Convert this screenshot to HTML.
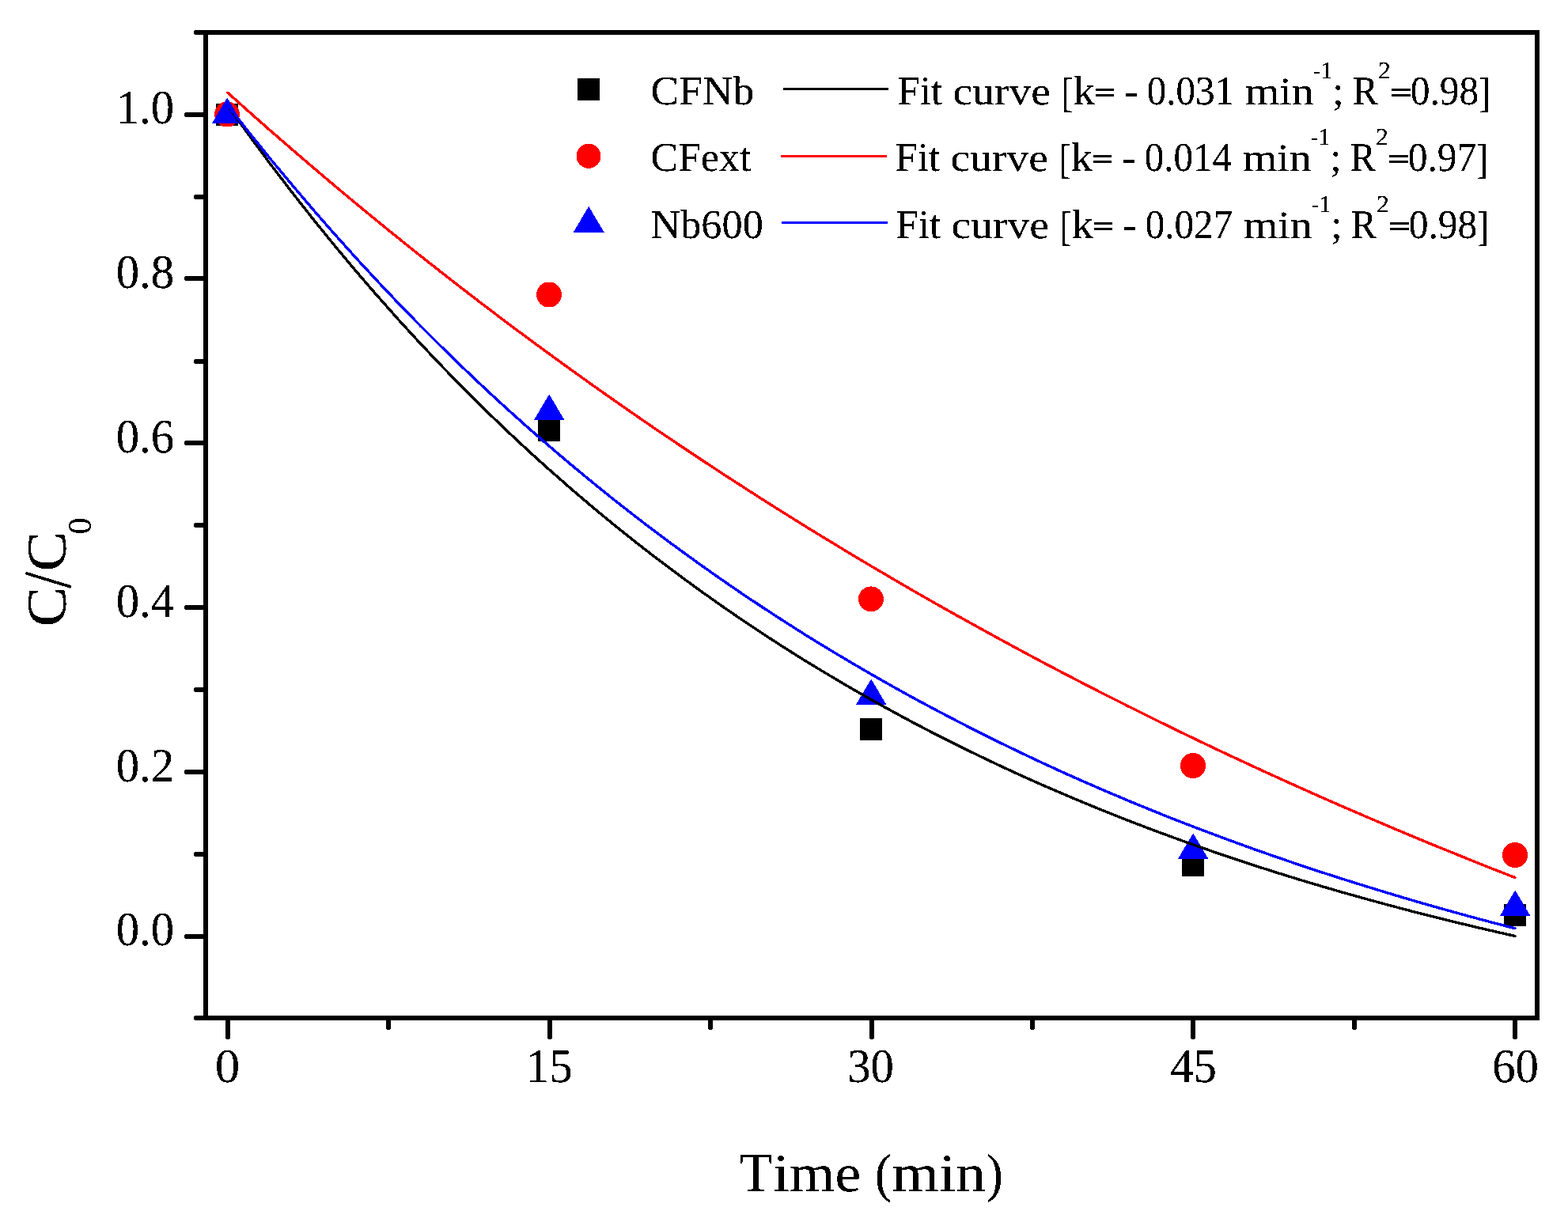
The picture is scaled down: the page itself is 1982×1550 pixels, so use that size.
<!DOCTYPE html>
<html lang="en"><head><meta charset="utf-8"><title>C/C0 versus time</title>
<style>html,body{margin:0;padding:0;background:#fff}svg{display:block}text{font-family:"Liberation Serif","DejaVu Serif",serif;fill:#000;white-space:pre;text-rendering:geometricPrecision}</style></head><body>
<svg width="1982" height="1550" viewBox="0 0 1982 1550">
<rect width="1982" height="1550" fill="#fff"/>
<defs><filter id="bw" filterUnits="userSpaceOnUse" x="0" y="0" width="1982" height="1550" color-interpolation-filters="sRGB"><feComponentTransfer><feFuncA type="discrete" tableValues="0 0 1 1 1"/></feComponentTransfer></filter></defs>
<g shape-rendering="crispEdges">
<g fill="#000"><rect x="273.0" y="130.5" width="28" height="28"/><rect x="680.0" y="530.0" width="28" height="28"/><rect x="1087.0" y="907.5" width="28" height="28"/><rect x="1494.0" y="1079.5" width="28" height="28"/><rect x="1901.0" y="1142.5" width="28" height="28"/></g>
<g fill="#f00"><circle cx="287.0" cy="144.5" r="16"/><circle cx="694.0" cy="372.5" r="16"/><circle cx="1101.0" cy="757.4" r="16"/><circle cx="1508.0" cy="968.0" r="16"/><circle cx="1915.0" cy="1081.0" r="16"/></g>
<g fill="#00f"><polygon points="287.2,123.5 306.7,156.3 267.7,156.3"/><polygon points="694.2,498.5 713.7,531.3 674.7,531.3"/><polygon points="1101.2,858.5 1120.7,891.3 1081.7,891.3"/><polygon points="1508.2,1053.5 1527.7,1086.3 1488.7,1086.3"/><polygon points="1915.2,1125.5 1934.7,1158.3 1895.7,1158.3"/></g>
</g>
<g fill="none" stroke-width="3.4" stroke-linejoin="round" stroke-linecap="round" shape-rendering="crispEdges">
<polyline stroke="#000" points="288.0,133.7 315.1,171.4 342.2,208.0 369.4,243.5 396.5,277.9 423.6,311.3 450.7,343.7 477.8,375.0 504.9,405.5 532.0,435.0 559.2,463.6 586.3,491.4 613.4,518.3 640.5,544.4 667.6,569.7 694.8,594.2 721.9,618.0 749.0,641.1 776.1,663.5 803.2,685.2 830.3,706.2 857.5,726.6 884.6,746.4 911.7,765.6 938.8,784.2 965.9,802.3 993.0,819.8 1020.1,836.8 1047.3,853.2 1074.4,869.2 1101.5,884.7 1128.6,899.7 1155.7,914.3 1182.8,928.4 1210.0,942.1 1237.1,955.3 1264.2,968.2 1291.3,980.7 1318.4,992.8 1345.5,1004.5 1372.7,1015.9 1399.8,1027.0 1426.9,1037.7 1454.0,1048.1 1481.1,1058.1 1508.2,1067.9 1535.4,1077.4 1562.5,1086.6 1589.6,1095.5 1616.7,1104.1 1643.8,1112.5 1671.0,1120.6 1698.1,1128.5 1725.2,1136.1 1752.3,1143.5 1779.4,1150.7 1806.5,1157.7 1833.7,1164.4 1860.8,1171.0 1887.9,1177.3 1915.0,1183.5"/>
<polyline stroke="#f00" points="288.0,117.3 315.1,141.6 342.2,165.5 369.4,189.1 396.5,212.3 423.6,235.3 450.7,257.9 477.8,280.2 504.9,302.2 532.0,323.9 559.2,345.3 586.3,366.4 613.4,387.2 640.5,407.7 667.6,427.9 694.8,447.8 721.9,467.5 749.0,486.9 776.1,506.0 803.2,524.9 830.3,543.5 857.5,561.8 884.6,579.9 911.7,597.8 938.8,615.3 965.9,632.7 993.0,649.8 1020.1,666.7 1047.3,683.3 1074.4,699.7 1101.5,715.9 1128.6,731.8 1155.7,747.6 1182.8,763.1 1210.0,778.4 1237.1,793.4 1264.2,808.3 1291.3,823.0 1318.4,837.5 1345.5,851.7 1372.7,865.8 1399.8,879.7 1426.9,893.3 1454.0,906.8 1481.1,920.1 1508.2,933.2 1535.4,946.2 1562.5,958.9 1589.6,971.5 1616.7,983.9 1643.8,996.1 1671.0,1008.2 1698.1,1020.1 1725.2,1031.8 1752.3,1043.4 1779.4,1054.8 1806.5,1066.1 1833.7,1077.1 1860.8,1088.1 1887.9,1098.9 1915.0,1109.5"/>
<polyline stroke="#00f" points="288.0,133.4 315.1,167.8 342.2,201.4 369.4,234.0 396.5,265.8 423.6,296.8 450.7,326.9 477.8,356.2 504.9,384.8 532.0,412.6 559.2,439.6 586.3,465.9 613.4,491.6 640.5,516.5 667.6,540.8 694.8,564.5 721.9,587.5 749.0,609.9 776.1,631.8 803.2,653.0 830.3,673.7 857.5,693.8 884.6,713.4 911.7,732.5 938.8,751.1 965.9,769.1 993.0,786.7 1020.1,803.9 1047.3,820.6 1074.4,836.8 1101.5,852.6 1128.6,868.0 1155.7,883.0 1182.8,897.5 1210.0,911.7 1237.1,925.6 1264.2,939.0 1291.3,952.1 1318.4,964.9 1345.5,977.3 1372.7,989.4 1399.8,1001.1 1426.9,1012.6 1454.0,1023.7 1481.1,1034.6 1508.2,1045.1 1535.4,1055.4 1562.5,1065.4 1589.6,1075.2 1616.7,1084.6 1643.8,1093.9 1671.0,1102.9 1698.1,1111.6 1725.2,1120.1 1752.3,1128.4 1779.4,1136.5 1806.5,1144.4 1833.7,1152.0 1860.8,1159.5 1887.9,1166.7 1915.0,1173.8"/>
</g>
<g fill="#000" shape-rendering="crispEdges">
<polygon points="234.5,142.0 260,142.0 260,148.0 234.5,148.0 233,146.5 233,143.5"/>
<polygon points="234.5,349.0 260,349.0 260,355.0 234.5,355.0 233,353.5 233,350.5"/>
<polygon points="234.5,557.0 260,557.0 260,563.0 234.5,563.0 233,561.5 233,558.5"/>
<polygon points="234.5,765.0 260,765.0 260,771.0 234.5,771.0 233,769.5 233,766.5"/>
<polygon points="234.5,973.0 260,973.0 260,979.0 234.5,979.0 233,977.5 233,974.5"/>
<polygon points="234.5,1181.0 260,1181.0 260,1187.0 234.5,1187.0 233,1185.5 233,1182.5"/>
<polygon points="246.5,246.0 260,246.0 260,252.0 246.5,252.0 245,250.5 245,247.5"/>
<polygon points="246.5,454.0 260,454.0 260,460.0 246.5,460.0 245,458.5 245,455.5"/>
<polygon points="246.5,661.0 260,661.0 260,667.0 246.5,667.0 245,665.5 245,662.5"/>
<polygon points="246.5,869.0 260,869.0 260,875.0 246.5,875.0 245,873.5 245,870.5"/>
<polygon points="246.5,1077.0 260,1077.0 260,1083.0 246.5,1083.0 245,1081.5 245,1078.5"/>
<polygon points="246.5,38.0 260,38.0 260,44.0 246.5,44.0 245,42.5 245,39.5"/>
<polygon points="246.5,1284.0 260,1284.0 260,1290.0 246.5,1290.0 245,1288.5 245,1285.5"/>
<polygon points="285.0,1287 291.0,1287 291.0,1312.5 289.5,1314 286.5,1314 285.0,1312.5"/>
<polygon points="692.0,1287 698.0,1287 698.0,1312.5 696.5,1314 693.5,1314 692.0,1312.5"/>
<polygon points="1099.0,1287 1105.0,1287 1105.0,1312.5 1103.5,1314 1100.5,1314 1099.0,1312.5"/>
<polygon points="1505.0,1287 1511.0,1287 1511.0,1312.5 1509.5,1314 1506.5,1314 1505.0,1312.5"/>
<polygon points="1912.0,1287 1918.0,1287 1918.0,1312.5 1916.5,1314 1913.5,1314 1912.0,1312.5"/>
<polygon points="488.0,1287 494.0,1287 494.0,1300.5 492.5,1302 489.5,1302 488.0,1300.5"/>
<polygon points="895.0,1287 901.0,1287 901.0,1300.5 899.5,1302 896.5,1302 895.0,1300.5"/>
<polygon points="1302.0,1287 1308.0,1287 1308.0,1300.5 1306.5,1302 1303.5,1302 1302.0,1300.5"/>
<polygon points="1709.0,1287 1715.0,1287 1715.0,1300.5 1713.5,1302 1710.5,1302 1709.0,1300.5"/>
</g>
<rect x="260" y="41" width="1683" height="1246" fill="none" stroke="#000" stroke-width="6" shape-rendering="crispEdges"/>
<g filter="url(#bw)">
<g>
<text><tspan x="146.69" y="156.30" font-size="60.60" textLength="73.51" lengthAdjust="spacingAndGlyphs">1.0</tspan></text>
<text><tspan x="146.69" y="364.10" font-size="60.60" textLength="73.51" lengthAdjust="spacingAndGlyphs">0.8</tspan></text>
<text><tspan x="146.69" y="571.90" font-size="60.60" textLength="73.51" lengthAdjust="spacingAndGlyphs">0.6</tspan></text>
<text><tspan x="146.69" y="779.70" font-size="60.60" textLength="73.51" lengthAdjust="spacingAndGlyphs">0.4</tspan></text>
<text><tspan x="146.69" y="987.50" font-size="60.60" textLength="73.51" lengthAdjust="spacingAndGlyphs">0.2</tspan></text>
<text><tspan x="146.69" y="1195.30" font-size="60.60" textLength="73.51" lengthAdjust="spacingAndGlyphs">0.0</tspan></text>
<text><tspan x="271.74" y="1368.40" font-size="60.60" textLength="31.51" lengthAdjust="spacingAndGlyphs">0</tspan></text>
<text><tspan x="664.81" y="1368.40" font-size="60.60" textLength="58.78" lengthAdjust="spacingAndGlyphs">15</tspan></text>
<text><tspan x="1071.22" y="1368.40" font-size="60.60" textLength="58.78" lengthAdjust="spacingAndGlyphs">30</tspan></text>
<text><tspan x="1479.20" y="1368.40" font-size="60.60" textLength="58.78" lengthAdjust="spacingAndGlyphs">45</tspan></text>
<text><tspan x="1886.16" y="1368.40" font-size="60.60" textLength="58.78" lengthAdjust="spacingAndGlyphs">60</tspan></text>
</g>
<g>
<text><tspan x="934.71" y="1506.20" font-size="70.80" textLength="41.46" lengthAdjust="spacingAndGlyphs">T</tspan><tspan x="977.22" y="1506.20" font-size="67.61" textLength="111.04" lengthAdjust="spacingAndGlyphs">ime</tspan> <tspan x="1106.06" y="1506.03" font-size="68.10" textLength="21.03" lengthAdjust="spacingAndGlyphs">(</tspan><tspan x="1127.57" y="1506.20" font-size="67.61" textLength="118.72" lengthAdjust="spacingAndGlyphs">min</tspan><tspan x="1246.66" y="1506.03" font-size="68.10" textLength="20.95" lengthAdjust="spacingAndGlyphs">)</tspan></text>
<text transform="translate(82.6 790) rotate(-90)"><tspan x="-2.55" y="0.00" font-size="70.80" textLength="50.80" lengthAdjust="spacingAndGlyphs">C</tspan><tspan x="46.20" y="6.45" font-size="85.07" textLength="20.93" lengthAdjust="spacingAndGlyphs">/</tspan><tspan x="67.45" y="0.00" font-size="70.80" textLength="50.80" lengthAdjust="spacingAndGlyphs">C</tspan><tspan x="114.52" y="32.00" font-size="41.50" textLength="21.06" lengthAdjust="spacingAndGlyphs">0</tspan></text>
</g>
<g>
<text><tspan x="822.56" y="132.00" font-size="51.60" textLength="130.76" lengthAdjust="spacingAndGlyphs">CFNb</tspan></text>
<rect x="990" y="111" width="133" height="3" fill="#000" shape-rendering="crispEdges"/>
<text><tspan x="1134.47" y="132.00" font-size="51.60" textLength="56.55" lengthAdjust="spacingAndGlyphs">Fit</tspan> <tspan x="1204.52" y="132.00" font-size="49.02" textLength="123.33" lengthAdjust="spacingAndGlyphs">curve</tspan> <tspan x="1341.33" y="134.84" font-size="53.01" textLength="15.42" lengthAdjust="spacingAndGlyphs">[</tspan><tspan x="1356.81" y="132.00" font-size="51.60" textLength="27.19" lengthAdjust="spacingAndGlyphs">k</tspan><tspan x="1383.17" y="129.02" font-size="36.00" textLength="26.80" lengthAdjust="spacingAndGlyphs" stroke="#000" stroke-width="0.9">=</tspan> <tspan x="1420.87" y="132.00" font-size="51.60" textLength="18.06" lengthAdjust="spacingAndGlyphs">-</tspan> <tspan x="1449.76" y="132.00" font-size="51.60" textLength="110.28" lengthAdjust="spacingAndGlyphs">0.031</tspan> <tspan x="1573.99" y="132.00" font-size="49.02" textLength="86.69" lengthAdjust="spacingAndGlyphs">min</tspan><tspan x="1659.71" y="99.10" font-size="30.30" textLength="24.25" lengthAdjust="spacingAndGlyphs">-1</tspan><tspan x="1684.19" y="132.00" font-size="51.60" textLength="14.34" lengthAdjust="spacingAndGlyphs">;</tspan> <tspan x="1709.44" y="132.00" font-size="51.60" textLength="32.46" lengthAdjust="spacingAndGlyphs">R</tspan><tspan x="1741.96" y="99.10" font-size="30.30" textLength="16.00" lengthAdjust="spacingAndGlyphs">2</tspan><tspan x="1756.91" y="129.02" font-size="36.00" textLength="27.53" lengthAdjust="spacingAndGlyphs" stroke="#000" stroke-width="0.9">=</tspan><tspan x="1782.75" y="132.00" font-size="51.60" textLength="86.40" lengthAdjust="spacingAndGlyphs">0.98</tspan><tspan x="1869.33" y="134.84" font-size="53.01" textLength="14.95" lengthAdjust="spacingAndGlyphs">]</tspan></text>
<text><tspan x="822.63" y="216.00" font-size="51.60" textLength="126.73" lengthAdjust="spacingAndGlyphs">CFext</tspan></text>
<rect x="987" y="196" width="134" height="3" fill="#f00" shape-rendering="crispEdges"/>
<text><tspan x="1131.47" y="216.00" font-size="51.60" textLength="56.55" lengthAdjust="spacingAndGlyphs">Fit</tspan> <tspan x="1201.52" y="216.00" font-size="49.02" textLength="123.33" lengthAdjust="spacingAndGlyphs">curve</tspan> <tspan x="1338.33" y="218.84" font-size="53.01" textLength="15.42" lengthAdjust="spacingAndGlyphs">[</tspan><tspan x="1353.81" y="216.00" font-size="51.60" textLength="27.19" lengthAdjust="spacingAndGlyphs">k</tspan><tspan x="1380.17" y="213.02" font-size="36.00" textLength="26.80" lengthAdjust="spacingAndGlyphs" stroke="#000" stroke-width="0.9">=</tspan> <tspan x="1417.87" y="216.00" font-size="51.60" textLength="18.06" lengthAdjust="spacingAndGlyphs">-</tspan> <tspan x="1446.76" y="216.00" font-size="51.60" textLength="110.28" lengthAdjust="spacingAndGlyphs">0.014</tspan> <tspan x="1570.99" y="216.00" font-size="49.02" textLength="86.69" lengthAdjust="spacingAndGlyphs">min</tspan><tspan x="1656.71" y="183.10" font-size="30.30" textLength="24.25" lengthAdjust="spacingAndGlyphs">-1</tspan><tspan x="1681.19" y="216.00" font-size="51.60" textLength="14.34" lengthAdjust="spacingAndGlyphs">;</tspan> <tspan x="1706.44" y="216.00" font-size="51.60" textLength="32.46" lengthAdjust="spacingAndGlyphs">R</tspan><tspan x="1738.96" y="183.10" font-size="30.30" textLength="16.00" lengthAdjust="spacingAndGlyphs">2</tspan><tspan x="1753.91" y="213.02" font-size="36.00" textLength="27.53" lengthAdjust="spacingAndGlyphs" stroke="#000" stroke-width="0.9">=</tspan><tspan x="1779.75" y="216.00" font-size="51.60" textLength="86.40" lengthAdjust="spacingAndGlyphs">0.97</tspan><tspan x="1866.33" y="218.84" font-size="53.01" textLength="14.95" lengthAdjust="spacingAndGlyphs">]</tspan></text>
<text><tspan x="822.43" y="300.90" font-size="51.60" textLength="142.42" lengthAdjust="spacingAndGlyphs">Nb600</tspan></text>
<rect x="988" y="280" width="134" height="3" fill="#00f" shape-rendering="crispEdges"/>
<text><tspan x="1132.47" y="300.90" font-size="51.60" textLength="56.55" lengthAdjust="spacingAndGlyphs">Fit</tspan> <tspan x="1202.52" y="300.90" font-size="49.02" textLength="123.33" lengthAdjust="spacingAndGlyphs">curve</tspan> <tspan x="1339.33" y="303.74" font-size="53.01" textLength="15.42" lengthAdjust="spacingAndGlyphs">[</tspan><tspan x="1354.81" y="300.90" font-size="51.60" textLength="27.19" lengthAdjust="spacingAndGlyphs">k</tspan><tspan x="1381.17" y="297.92" font-size="36.00" textLength="26.80" lengthAdjust="spacingAndGlyphs" stroke="#000" stroke-width="0.9">=</tspan> <tspan x="1418.87" y="300.90" font-size="51.60" textLength="18.06" lengthAdjust="spacingAndGlyphs">-</tspan> <tspan x="1447.76" y="300.90" font-size="51.60" textLength="110.28" lengthAdjust="spacingAndGlyphs">0.027</tspan> <tspan x="1571.99" y="300.90" font-size="49.02" textLength="86.69" lengthAdjust="spacingAndGlyphs">min</tspan><tspan x="1657.71" y="268.00" font-size="30.30" textLength="24.25" lengthAdjust="spacingAndGlyphs">-1</tspan><tspan x="1682.19" y="300.90" font-size="51.60" textLength="14.34" lengthAdjust="spacingAndGlyphs">;</tspan> <tspan x="1707.44" y="300.90" font-size="51.60" textLength="32.46" lengthAdjust="spacingAndGlyphs">R</tspan><tspan x="1739.96" y="268.00" font-size="30.30" textLength="16.00" lengthAdjust="spacingAndGlyphs">2</tspan><tspan x="1754.91" y="297.92" font-size="36.00" textLength="27.53" lengthAdjust="spacingAndGlyphs" stroke="#000" stroke-width="0.9">=</tspan><tspan x="1780.75" y="300.90" font-size="51.60" textLength="86.40" lengthAdjust="spacingAndGlyphs">0.98</tspan><tspan x="1867.33" y="303.74" font-size="53.01" textLength="14.95" lengthAdjust="spacingAndGlyphs">]</tspan></text>
</g>
</g>
<g shape-rendering="crispEdges">
<g fill="#000"><rect x="730.0" y="99.0" width="28" height="28"/></g>
<g fill="#f00"><circle cx="744.0" cy="197.3" r="15.5"/></g>
<g fill="#00f"><polygon points="744.2,260.9 763.7,293.7 724.7,293.7"/></g>
</g>
</svg></body></html>
